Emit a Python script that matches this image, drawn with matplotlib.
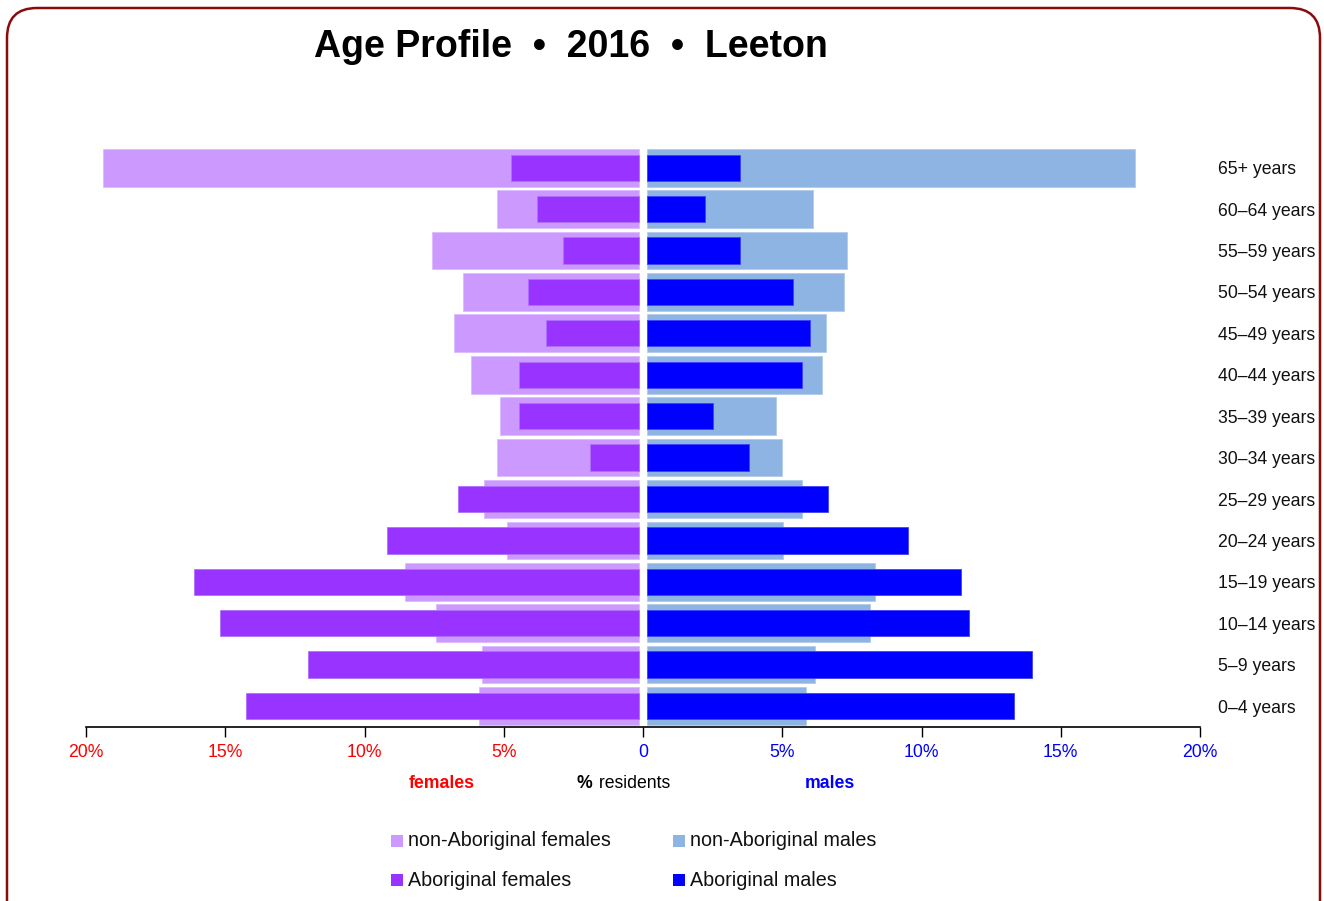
import matplotlib
matplotlib.use("Agg")
import matplotlib.pyplot as plt
from matplotlib.patches import FancyBboxPatch
from matplotlib import font_manager

# pick a condensed face if installed, otherwise regular Liberation Sans
NARROW = None
try:
    font_manager.findfont("Liberation Sans Narrow", fallback_to_default=False)
    NARROW = "Liberation Sans Narrow"
except Exception:
    NARROW = None

plt.rcParams['font.family'] = ['Liberation Sans', 'DejaVu Sans']

# ---------------- data ----------------
age_groups = ["0\u20134 years", "5\u20139 years", "10\u201314 years", "15\u201319 years",
              "20\u201324 years", "25\u201329 years", "30\u201334 years", "35\u201339 years",
              "40\u201344 years", "45\u201349 years", "50\u201354 years", "55\u201359 years",
              "60\u201364 years", "65+ years"]

nonab_females = [5.74, 5.61, 7.27, 8.37, 4.74, 5.54, 5.10, 4.96, 6.01, 6.61, 6.32, 7.42, 5.10, 19.23]
ab_females    = [14.08, 11.86, 15.04, 15.97, 9.02, 6.49, 1.74, 4.28, 4.28, 3.32, 3.96, 2.70, 3.64, 4.58]
nonab_males   = [5.69, 6.01, 8.00, 8.18, 4.88, 5.54, 4.83, 4.60, 6.27, 6.40, 7.04, 7.16, 5.96, 17.49]
ab_males      = [13.15, 13.79, 11.56, 11.25, 9.34, 6.47, 3.63, 2.36, 5.54, 5.85, 5.22, 3.33, 2.05, 3.33]

tick_values = [-20, -15, -10, -5, 0, 5, 10, 15, 20]
tick_labels = ["20%", "15%", "10%", "5%", "0", "5%", "10%", "15%", "20%"]

title = "Age Profile  \u2022  2016  \u2022  Leeton"
legend_labels = ["non-Aboriginal females", "non-Aboriginal males",
                 "Aboriginal females", "Aboriginal males"]

# ---------------- styling ----------------
C_NF = "#CC99FF"
C_AF = "#9933FF"
C_NM = "#8DB4E2"
C_AM = "#0000FF"
W, H = 1324, 901
gap = 0.16

if NARROW:
    FAM = [NARROW, 'Liberation Sans', 'DejaVu Sans']
    k = 1.0 / 0.82
else:
    FAM = ['Liberation Sans', 'DejaVu Sans']
    k = 1.0

FS = 12.7 * k
FS_LEG = 14.2 * k
FS_TITLE = 27.0 * k

fig = plt.figure(figsize=(W / 100, H / 100), dpi=100)

def fx(px):
    return px / W

def fy(py):
    return 1 - py / H

ax = fig.add_axes([fx(86), fy(727), fx(1200) - fx(86), fy(147) - fy(727)])

y = list(range(len(age_groups)))
ax.barh(y, [-v for v in nonab_females], left=-gap, height=0.91, color=C_NF,
        edgecolor="#DDBBFF", linewidth=0.6)
ax.barh(y, nonab_males, left=gap, height=0.91, color=C_NM,
        edgecolor="#B0CBEB", linewidth=0.6)
ax.barh(y, [-v for v in ab_females], left=-gap, height=0.635, color=C_AF,
        edgecolor="#B070FF", linewidth=0.6)
ax.barh(y, ab_males, left=gap, height=0.635, color=C_AM,
        edgecolor="#4040FF", linewidth=0.6)

ax.set_xlim(-20, 20)
ax.set_ylim(-0.507, 13.5)

for s in ["top", "right", "left"]:
    ax.spines[s].set_visible(False)
ax.spines["bottom"].set_linewidth(1.2)
ax.set_yticks([])
ax.set_xticks(tick_values)
ax.set_xticklabels(tick_labels, fontsize=FS, family=FAM)
ax.tick_params(axis="x", direction="out", length=7, width=1.0, pad=5)
for lbl, v in zip(ax.get_xticklabels(), tick_values):
    lbl.set_color("#FF0000" if v < 0 else "#0000FF")

# age labels on the right
for yi, lab in zip(y, age_groups):
    ax.text(1.016, yi - 0.05, lab, transform=ax.get_yaxis_transform(), ha="left",
            va="center", fontsize=FS, color="#111111", family=FAM)

# axis sub-labels
fig.text(fx(442), fy(783), "females", ha="center", va="center", fontsize=FS,
         fontweight="bold", color="#FF0000", family=FAM)
fig.text(fx(592), fy(783), "%", ha="right", va="center", fontsize=FS,
         fontweight="bold", color="#000000", family=FAM)
fig.text(fx(594), fy(783), " residents", ha="left", va="center", fontsize=FS,
         color="#000000", family=FAM)
fig.text(fx(830), fy(783), "males", ha="center", va="center", fontsize=FS,
         fontweight="bold", color="#0000FF", family=FAM)

# title
fig.text(fx(571), fy(47), title, ha="center", va="center", fontsize=FS_TITLE,
         fontweight="bold", color="#000000", family=FAM)

# legend (manual)
leg_pos = [(391, 841), (673, 841), (391, 880), (673, 880)]
leg_cols = [C_NF, C_NM, C_AF, C_AM]
for (px, py), col, lab in zip(leg_pos, leg_cols, legend_labels):
    sq = plt.Rectangle((fx(px), fy(py + 6)), fx(12), 12 / H, transform=fig.transFigure,
                       facecolor=col, edgecolor="none")
    fig.patches.append(sq)
    fig.text(fx(px + 17), fy(py), lab, ha="left", va="center", fontsize=FS_LEG,
             color="#111111", family=FAM)

# rounded border
border = FancyBboxPatch((0.07, -0.4), 13.13, 9.33,
                        boxstyle="round,pad=0,rounding_size=0.3",
                        transform=fig.dpi_scale_trans, facecolor="none",
                        edgecolor="#8B0A0A", linewidth=1.8)
fig.patches.append(border)

fig.savefig("out.png", dpi=100)
